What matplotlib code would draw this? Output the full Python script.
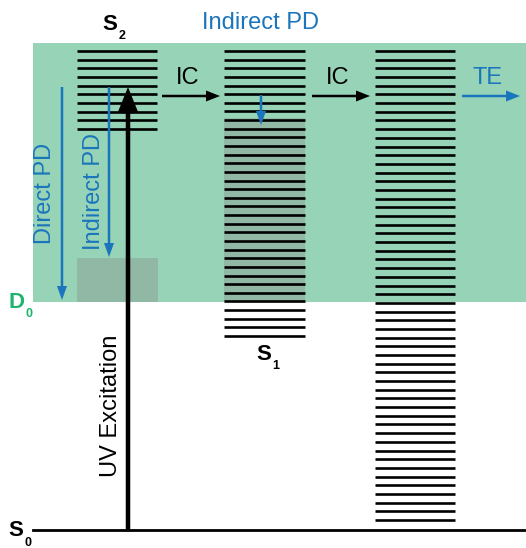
import numpy as np
import matplotlib.pyplot as plt
from matplotlib.patches import Rectangle

plt.rcParams['font.family'] = ['Liberation Sans', 'DejaVu Sans']

# energies in arbitrary units (S0 = 0)
manifold_names = ['S2', 'S1', 'hot S0']
manifold_top = [479, 479, 479]
manifold_bottom = [401, 194, 10]
n_levels = [10, 34, 55]
manifold_x = [(77, 157), (224, 305), (375, 455)]
d0_energy = 228
uv_energy = 443
indirect_end = 272
s1_relax = (435, 405)

green = '#96d3b7'
blue = '#1b75bc'
d0_green = '#1fb36d'

fig = plt.figure(figsize=(5.26, 5.48), dpi=100)
ax = fig.add_axes([0, 0, 1, 1])
ax.set_xlim(0, 526)
ax.set_ylim(-18, 530)
ax.axis('off')

# dissociation region
ax.add_patch(Rectangle((33, d0_energy), 526 - 33, 487 - d0_energy, color=green, lw=0, zorder=0))
# gray shaded regions
ax.add_patch(Rectangle((224, d0_energy), 81, 412 - d0_energy, color='#8a8a8a', alpha=0.38, lw=0, zorder=1))
ax.add_patch(Rectangle((77, d0_energy), 81, indirect_end - d0_energy, color='#8a8a8a', alpha=0.38, lw=0, zorder=1))

# vibrational levels
for (x0, x1), top, bot, n in zip(manifold_x, manifold_top, manifold_bottom, n_levels):
    for e in np.linspace(top, bot, n):
        ax.plot([x0, x1], [e, e], color='black', lw=1.9, solid_capstyle='butt', zorder=2)

# ground state
ax.plot([33, 526], [0, 0], color='black', lw=2, zorder=2)

# UV excitation
ax.arrow(128, 0, 0, uv_energy, width=4.5, head_width=21, head_length=26,
         length_includes_head=True, color='black', lw=0, zorder=4)
ax.text(111, 124, 'UV Excitation', rotation=90, ha='center', va='center', fontsize=17)

# photodissociation arrows
ax.arrow(62, uv_energy, 0, d0_energy + 2 - uv_energy, width=2.5, head_width=10, head_length=14,
         length_includes_head=True, color=blue, lw=0, zorder=3)
ax.text(45, 337, 'Direct PD', rotation=90, ha='center', va='center', fontsize=17, color=blue)
ax.arrow(109, uv_energy, 0, indirect_end + 1 - uv_energy, width=2.5, head_width=10, head_length=14,
         length_includes_head=True, color=blue, lw=0, zorder=3)
ax.text(94, 338, 'Indirect PD', rotation=90, ha='center', va='center', fontsize=17, color=blue)
ax.arrow(261, s1_relax[0], 0, s1_relax[1] - s1_relax[0], width=2.5, head_width=10, head_length=14,
         length_includes_head=True, color=blue, lw=0, zorder=3)

# IC and TE
for x0, x1, label, c in [(162, 220, 'IC', 'black'), (312, 370, 'IC', 'black'), (462, 520, 'TE', blue)]:
    ax.arrow(x0, 434, x1 - x0, 0, width=2.5, head_width=11, head_length=14,
             length_includes_head=True, color=c, lw=0, zorder=3)
    ax.text((x0 + x1) / 2 - 3, 452, label, ha='center', va='center', fontsize=17, color=c)

ax.text(261, 507, 'Indirect PD', ha='center', va='center', fontsize=17, color=blue)

# state labels
def state_label(x, y, main, sub, color='black'):
    ax.text(x, y, main, ha='center', va='center', fontsize=16, fontweight='bold', color=color)
    ax.text(x + 12, y - 12, sub, ha='center', va='center', fontsize=9, fontweight='bold', color=color)

state_label(110, 506, 'S', '2')
state_label(264, 176, 'S', '1')
state_label(17, 228, 'D', '0', d0_green)
state_label(16, -1, 'S', '0')

fig.savefig('out.png', dpi=100)
